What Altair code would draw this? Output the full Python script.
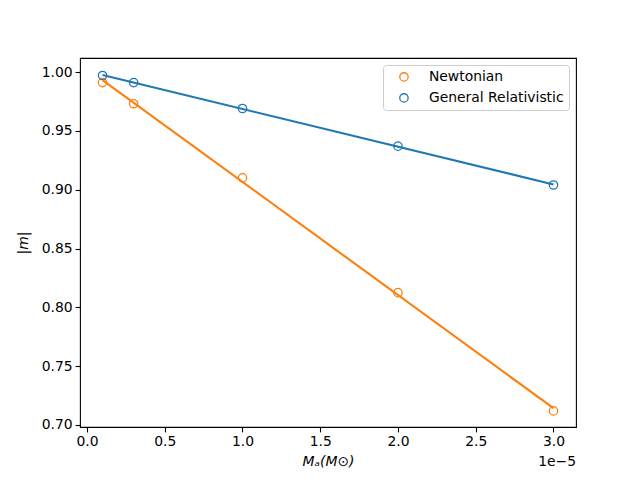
import altair as alt
import pandas as pd

x_vals = [0.1, 0.3, 1.0, 2.0, 3.0]           # in units of 1e-5 solar masses
newtonian = [0.991, 0.973, 0.910, 0.8125, 0.712]
general_rel = [0.997, 0.991, 0.969, 0.937, 0.904]
series_names = ["Newtonian", "General Relativistic"]
colors = ["#ff7f0e", "#1f77b4"]

rows = []
for name, vals in zip(series_names, [newtonian, general_rel]):
    for xv, yv in zip(x_vals, vals):
        rows.append({"x": xv, "y": yv, "series": name})
df = pd.DataFrame(rows)

FONT = "DejaVu Sans"
FS = 13.9
MS = 70

xscale = alt.Scale(domain=[-0.045, 3.145], nice=False, zero=False)
yscale = alt.Scale(domain=[0.6983, 1.0119], nice=False, zero=False)
cscale = alt.Scale(domain=series_names, range=colors)

xaxis = alt.Axis(title="Mₐ(M⊙)", values=[0, 0.5, 1.0, 1.5, 2.0, 2.5, 3.0], format=".1f",
                 grid=False, domain=False, tickSize=4.9, tickWidth=1.1, tickColor="black",
                 labelPadding=3, labelFontSize=FS, labelFont=FONT, labelColor="black",
                 titleFont=FONT, titleFontSize=FS, titleFontWeight="normal", titleFontStyle="italic",
                 titleColor="black", titlePadding=6)
yaxis = alt.Axis(title="|m|", values=[0.70, 0.75, 0.80, 0.85, 0.90, 0.95, 1.00], format=".2f",
                 grid=False, domain=False, tickSize=4.9, tickWidth=1.1, tickColor="black",
                 labelPadding=3, labelFontSize=FS, labelFont=FONT, labelColor="black",
                 titleFont=FONT, titleFontSize=FS, titleFontWeight="normal", titleFontStyle="italic",
                 titleColor="black", titlePadding=11)

legend = alt.Legend(title=None, orient="top-right", offset=7,
                    labelFont=FONT, labelFontSize=FS, labelColor="black",
                    symbolType="circle", symbolSize=MS, symbolStrokeWidth=1.3,
                    symbolFillColor="white", rowPadding=6, labelOffset=18, symbolOffset=9,
                    padding=5, strokeColor="#cccccc", fillColor="white",
                    cornerRadius=3)

base = alt.Chart(df)

points = base.mark_point(shape="circle", filled=False, size=MS, strokeWidth=1.3, opacity=1).encode(
    x=alt.X("x:Q", scale=xscale, axis=xaxis),
    y=alt.Y("y:Q", scale=yscale, axis=yaxis),
    color=alt.Color("series:N", scale=cscale, legend=legend),
)

lines = base.transform_regression("x", "y", groupby=["series"]).mark_line(strokeWidth=2.1).encode(
    x=alt.X("x:Q", scale=xscale, axis=xaxis),
    y=alt.Y("y:Q", scale=yscale, axis=yaxis),
    color=alt.Color("series:N", scale=cscale, legend=legend),
)

offset_txt = alt.Chart(pd.DataFrame({"t": ["1e−5"]})).mark_text(
    align="right", baseline="middle", font=FONT, fontSize=FS, color="black"
).encode(text="t:N", x=alt.value(496), y=alt.value(404))

chart = alt.layer(points, lines, offset_txt).properties(
    width=496, height=369,
    background="white",
    autosize=alt.AutoSizeParams(type="none"),
    padding={"left": 72, "top": 50, "right": 56, "bottom": 45},
).configure_view(stroke="black", strokeWidth=1.1)

chart.save("out.html", embed_options={"renderer": "svg", "actions": False})
